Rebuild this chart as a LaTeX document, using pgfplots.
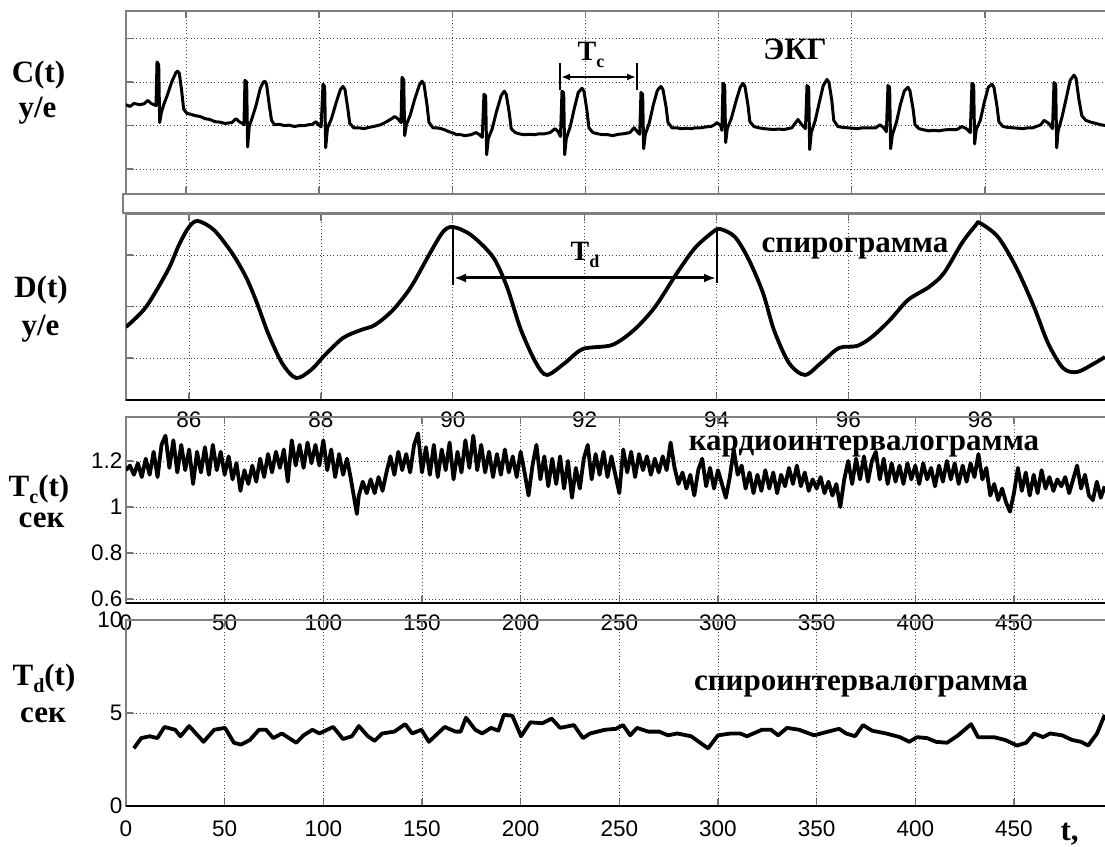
\documentclass[border=0pt]{standalone}
\usepackage{fontspec}
\setmainfont{Liberation Serif}
\newfontfamily\arial{Liberation Sans}
\usepackage{pgfplots}
\pgfplotsset{compat=1.18}
\usetikzlibrary{arrows.meta}

\pgfplotstableread{
t y
85.099 0.48
85.160 0.44
85.220 0.51
85.300 0.48
85.369 0.50
85.429 0.58
85.475 0.51
85.520 0.48
85.550 0.46
85.565 1.46
85.590 1.40
85.605 0.07
85.630 0.30
85.665 0.48
85.720 0.70
85.790 1.02
85.850 1.22
85.875 1.25
85.900 1.20
85.935 0.80
85.965 0.38
86.015 0.28
86.075 0.26
86.135 0.23
86.210 0.21
86.286 0.16
86.360 0.14
86.436 0.09
86.510 0.08
86.586 0.05
86.691 0.07
86.751 0.16
86.800 0.09
86.850 0.05
86.871 0.02
86.886 1.04
86.911 1.00
86.926 -0.49
86.950 -0.02
86.990 0.16
87.050 0.45
87.115 0.85
87.160 1.00
87.186 1.02
87.210 0.95
87.250 0.48
87.285 0.12
87.330 0.02
87.400 0.03
87.480 0.00
87.550 0.01
87.630 -0.02
87.700 0.00
87.780 0.00
87.840 0.02
87.900 0.03
87.953 0.09
87.990 0.02
88.030 -0.03
88.058 0.95
88.083 0.90
88.098 -0.51
88.125 -0.06
88.185 0.16
88.260 0.55
88.320 0.83
88.358 0.90
88.388 0.83
88.430 0.40
88.460 0.05
88.520 -0.05
88.600 -0.05
88.670 -0.07
88.750 -0.04
88.820 -0.02
88.925 0.02
89.015 0.09
89.090 0.16
89.135 0.21
89.180 0.16
89.230 0.07
89.245 1.11
89.270 1.05
89.285 -0.23
89.310 0.02
89.370 0.25
89.430 0.58
89.505 0.93
89.545 1.02
89.575 0.95
89.620 0.48
89.650 0.07
89.710 -0.05
89.770 -0.05
89.830 -0.07
89.890 -0.10
89.950 -0.14
90.010 -0.17
90.070 -0.21
90.130 -0.21
90.190 -0.23
90.280 -0.21
90.356 -0.16
90.410 -0.21
90.450 -0.27
90.476 0.72
90.501 0.68
90.516 -0.67
90.540 -0.30
90.600 -0.07
90.660 0.30
90.735 0.69
90.780 0.79
90.810 0.72
90.855 0.30
90.885 -0.07
90.945 -0.16
91.010 -0.19
91.080 -0.21
91.160 -0.20
91.230 -0.21
91.300 -0.19
91.380 -0.19
91.470 -0.16
91.543 -0.07
91.590 -0.14
91.625 -0.25
91.648 0.79
91.673 0.75
91.688 -0.67
91.712 -0.30
91.772 -0.02
91.832 0.39
91.892 0.76
91.948 0.86
91.978 0.79
92.022 0.35
92.052 -0.05
92.112 -0.16
92.190 -0.19
92.262 -0.21
92.340 -0.21
92.412 -0.23
92.490 -0.20
92.562 -0.19
92.667 -0.16
92.731 -0.05
92.780 -0.14
92.815 -0.20
92.834 0.76
92.859 0.72
92.874 -0.53
92.900 -0.20
92.960 0.07
93.020 0.48
93.080 0.81
93.134 0.90
93.164 0.83
93.210 0.44
93.240 0.07
93.300 -0.05
93.370 -0.05
93.435 -0.07
93.510 -0.06
93.585 -0.07
93.660 -0.05
93.735 -0.05
93.810 -0.03
93.885 -0.02
93.940 0.02
93.976 0.07
94.030 0.00
94.050 -0.11
94.066 0.97
94.091 0.93
94.106 -0.39
94.130 -0.07
94.190 0.16
94.265 0.58
94.325 0.88
94.366 0.97
94.396 0.90
94.440 0.48
94.470 0.09
94.530 -0.02
94.600 -0.05
94.680 -0.07
94.750 -0.08
94.830 -0.09
94.900 -0.08
94.980 -0.09
95.100 -0.05
95.192 0.14
95.250 0.02
95.305 -0.07
95.328 0.92
95.353 0.88
95.368 -0.55
95.392 -0.16
95.452 0.12
95.512 0.53
95.572 0.92
95.628 1.06
95.658 0.99
95.700 0.58
95.730 0.12
95.790 -0.02
95.860 -0.04
95.940 -0.05
96.010 -0.06
96.090 -0.07
96.160 -0.05
96.240 -0.05
96.360 -0.05
96.424 0.02
96.480 -0.05
96.520 -0.14
96.544 0.92
96.569 0.88
96.584 -0.53
96.610 -0.21
96.670 0.07
96.730 0.48
96.790 0.80
96.844 0.88
96.874 0.80
96.920 0.39
96.950 0.02
97.010 -0.07
97.090 -0.10
97.160 -0.12
97.230 -0.11
97.310 -0.12
97.390 -0.10
97.460 -0.09
97.580 -0.09
97.656 -0.02
97.720 -0.07
97.780 -0.16
97.806 0.97
97.831 0.93
97.846 -0.42
97.870 -0.09
97.930 0.12
97.990 0.53
98.050 0.88
98.106 0.95
98.136 0.88
98.180 0.46
98.210 0.09
98.270 -0.02
98.340 -0.04
98.420 -0.05
98.500 -0.06
98.570 -0.07
98.650 -0.05
98.720 -0.05
98.840 0.02
98.888 0.12
98.960 0.05
99.015 -0.07
99.038 0.99
99.063 0.95
99.078 -0.51
99.100 -0.12
99.160 0.21
99.220 0.62
99.280 1.04
99.338 1.16
99.368 1.09
99.410 0.62
99.455 0.23
99.515 0.12
99.590 0.08
99.665 0.05
99.740 0.02
99.815 0.00
99.920 -0.02
}\ecg

\pgfplotstableread{
t y
85.045 1.602
85.348 1.990
85.682 2.709
85.848 3.194
86.000 3.544
86.136 3.660
86.379 3.485
86.652 3.039
86.864 2.573
87.031 2.068
87.198 1.485
87.410 0.903
87.622 0.612
87.850 0.767
88.062 1.058
88.335 1.388
88.608 1.544
88.820 1.641
89.093 1.932
89.366 2.379
89.639 3.000
89.851 3.447
90.003 3.544
90.276 3.388
90.610 2.961
90.822 2.379
91.034 1.544
91.262 0.903
91.428 0.670
91.701 0.903
91.974 1.175
92.414 1.252
92.748 1.544
93.066 1.990
93.400 2.650
93.672 3.136
93.945 3.447
94.052 3.505
94.279 3.350
94.491 2.903
94.704 2.262
94.870 1.544
95.098 0.903
95.340 0.670
95.583 0.903
95.856 1.194
96.129 1.233
96.356 1.408
96.629 1.738
96.902 2.126
97.221 2.379
97.448 2.650
97.721 3.233
97.933 3.583
97.994 3.621
98.267 3.350
98.540 2.767
98.813 1.990
99.025 1.291
99.252 0.806
99.465 0.728
99.738 0.903
99.889 1.019
}\spiro

\pgfplotstableread{
t y
0 1.16
2 1.18
4 1.14
6 1.19
8 1.13
10 1.21
12 1.14
14 1.24
16 1.13
18 1.27
20 1.31
22 1.17
24 1.29
26 1.15
28 1.27
30 1.16
32 1.25
34 1.10
36 1.24
38 1.15
40 1.26
42 1.14
44 1.27
46 1.16
48 1.24
50 1.14
52 1.22
54 1.12
56 1.19
58 1.07
60 1.16
62 1.10
64 1.18
66 1.11
68 1.21
70 1.13
72 1.23
74 1.15
76 1.24
78 1.17
80 1.25
82 1.11
84 1.29
86 1.18
88 1.27
90 1.17
92 1.28
94 1.19
96 1.27
98 1.18
100 1.29
102 1.16
104 1.25
106 1.13
108 1.23
110 1.14
112 1.21
114 1.12
116 1.02
117 0.97
118 1.05
120 1.11
122 1.06
124 1.12
126 1.06
128 1.13
130 1.07
132 1.15
134 1.22
136 1.14
138 1.24
140 1.16
142 1.23
144 1.15
146 1.27
148 1.32
150 1.15
152 1.26
154 1.14
156 1.27
158 1.13
160 1.25
162 1.16
164 1.28
166 1.12
168 1.24
170 1.15
172 1.29
174 1.17
176 1.31
178 1.16
180 1.27
182 1.15
184 1.24
186 1.13
188 1.23
190 1.14
192 1.25
194 1.15
196 1.22
198 1.13
200 1.24
202 1.15
204 1.05
206 1.18
208 1.27
210 1.12
212 1.22
214 1.09
216 1.21
218 1.10
220 1.22
222 1.08
224 1.20
226 1.04
228 1.17
230 1.08
232 1.21
234 1.27
236 1.12
238 1.23
240 1.14
242 1.24
244 1.13
246 1.22
248 1.14
250 1.06
252 1.25
254 1.15
256 1.24
258 1.13
260 1.23
262 1.16
264 1.22
266 1.14
268 1.21
270 1.15
272 1.22
274 1.16
276 1.28
278 1.17
280 1.10
282 1.15
284 1.08
286 1.14
288 1.05
290 1.16
292 1.21
294 1.09
296 1.17
298 1.08
300 1.16
302 1.10
304 1.04
306 1.13
308 1.25
310 1.14
312 1.18
314 1.08
316 1.15
318 1.06
320 1.14
322 1.07
324 1.16
326 1.08
328 1.15
330 1.06
332 1.14
334 1.09
336 1.17
338 1.10
340 1.18
342 1.09
344 1.15
346 1.07
348 1.12
350 1.08
352 1.13
354 1.06
356 1.11
358 1.05
360 1.10
362 1.00
364 1.12
366 1.20
368 1.10
370 1.21
372 1.12
374 1.22
376 1.11
378 1.20
380 1.24
382 1.12
384 1.21
386 1.10
388 1.19
390 1.11
392 1.18
394 1.10
396 1.19
398 1.12
400 1.18
402 1.10
404 1.19
406 1.12
408 1.17
410 1.09
412 1.18
414 1.11
416 1.20
418 1.12
420 1.19
422 1.10
424 1.18
426 1.11
428 1.19
430 1.13
432 1.23
434 1.12
436 1.17
438 1.05
440 1.10
442 1.03
444 1.08
446 1.02
448 0.98
450 1.06
452 1.17
454 1.07
456 1.15
458 1.05
460 1.14
462 1.06
464 1.16
466 1.08
468 1.13
470 1.07
472 1.12
474 1.09
476 1.13
478 1.06
480 1.12
482 1.18
484 1.08
486 1.14
488 1.05
490 1.03
492 1.11
494 1.04
496 1.09
}\cardio

\pgfplotstableread{
t y
4 3.1
7.7 3.65
12 3.75
15.9 3.65
19.5 4.25
24.9 4.1
27.6 3.75
32 4.3
39.3 3.45
44.7 4.1
50.2 4.2
54.7 3.4
58.3 3.3
62.8 3.55
67.4 4.1
71 4.1
74.6 3.65
79 3.9
86.3 3.4
90 3.8
94.5 4.1
98 3.9
105 4.25
110 3.6
114.5 3.75
118 4.3
122.6 3.75
126 3.5
129.8 3.9
136 4.0
141.5 4.4
145 3.9
149.7 4.1
153.5 3.45
161.5 4.25
167 4.0
169.6 4.0
172.3 4.75
177 4.1
180.5 3.9
185 4.2
188.7 4.05
191.5 4.9
195.8 4.85
200.2 3.75
204.9 4.5
211 4.45
215.7 4.7
220 4.2
227 4.35
231.6 3.65
235.2 3.9
242.8 4.1
248.3 4.15
251.9 4.35
255.5 3.8
259 4.2
264.6 4.0
270.2 4.0
274.7 3.8
279.3 3.9
286.4 3.75
295 3.1
300 3.8
306.6 3.9
311.2 3.9
314.7 3.75
322.3 4.1
326.9 4.1
330.5 3.8
335 4.2
341.1 4.1
348.7 3.8
355.8 4.0
361.4 4.15
364.9 3.9
369.5 3.75
373.5 4.35
378.1 4.05
385.2 3.9
392.3 3.7
396.9 3.45
400.9 3.7
406 3.65
410.5 3.45
416.1 3.4
421.7 3.8
428.3 4.4
431.8 3.7
439.9 3.7
445.5 3.55
451.6 3.25
456.2 3.4
460.2 3.9
464.8 3.7
468.3 3.9
474.4 3.8
479.5 3.55
484 3.45
487.6 3.25
492.1 3.9
496 4.9
}\spirint

\pgfplotsset{
  panel/.style={
    scale only axis, width=986pt, anchor=south west,
    axis line style={draw=black!50, line width=1.3pt},
    grid=major,
    major grid style={black!75, line width=0.7pt, dash pattern=on 0.8pt off 2.6pt},
    tick align=inside, major tick length=7pt,
    every tick/.style={black!55, line width=1.3pt},
    ticklabel style={font=\arial\fontsize{22.5}{23}\selectfont},
    /pgf/number format/assume math mode=true,
  },
}

\newcommand{\lbl}{\fontsize{31}{31}\selectfont\bfseries}

\begin{document}
\begin{tikzpicture}[x=1pt,y=1pt]
\useasboundingbox (0,0) rectangle (1105,846);
\clip (0,0) rectangle (1105,846);
\fill[white] (0,0) rectangle (1105,846);

% ECG panel
\begin{axis}[panel, at={(126pt,652pt)}, height=183pt,
  xmin=85.099, xmax=99.909, ymin=-1.571, ymax=2.633,
  xtick={86,88,...,98}, ytick={-1,0,1,2},
  xticklabels={}, yticklabels={}]
\addplot[black, line width=3pt, line join=round] table[x=t,y=y] {\ecg};
\end{axis}

% separator
\draw[black!50, line width=1.6pt, fill=white] (123,633) rectangle (1112,652);

% spirogram
\begin{axis}[panel, at={(126pt,446pt)}, height=186pt,
  xmin=85.045, xmax=99.996, ymin=0.184, ymax=3.796,
  xtick={86,88,...,98}, ytick={1,2,3}, yticklabels={},
  xticklabel style={yshift=-8pt}]
\addplot[black, line width=3.8pt, smooth] table[x=t,y=y] {\spiro};
\end{axis}

% cardiointervalogram
\begin{axis}[panel, at={(126pt,243pt)}, height=186pt,
  xmin=0, xmax=499.7, ymin=0.583, ymax=1.391,
  xtick={0,50,...,450}, ytick={0.6,0.8,1,1.2},
  yticklabels={0.6,0.8,1,1.2},
  xticklabel style={yshift=-8pt}]
\addplot[black, line width=3.8pt, line join=round] table[x=t,y=y] {\cardio};
\end{axis}

% spirointervalogram
\begin{axis}[panel, at={(126pt,40pt)}, height=186pt,
  xmin=0, xmax=499.7, ymin=0, ymax=10,
  xtick={0,50,...,450}, ytick={0,5,10},
  xticklabel style={yshift=-11pt}]
\addplot[black, line width=3.8pt, line join=round] table[x=t,y=y] {\spirint};
\end{axis}

% dark bottom axis lines
\draw[black, line width=1.5pt] (126,446) -- (1112,446);
\draw[black, line width=1.5pt] (126,243) -- (1112,243);
\draw[black, line width=1.5pt] (126,40) -- (1112,40);

% annotations: T_c
\draw[black, line width=1.5pt] (560,783) -- (560,756);
\draw[black, line width=1.5pt] (637,783) -- (637,756);
\draw[black, line width=2.2pt, {Latex[length=9pt,width=7pt]}-{Latex[length=9pt,width=7pt]}] (561,769) -- (636,769);
\node[font=\fontsize{28}{28}\selectfont\bfseries, anchor=base] at (591,785) {T\raisebox{-0.25em}{\fontsize{18}{18}\selectfont c}};

% annotations: T_d
\draw[black, line width=1.8pt] (453,619) -- (453,561);
\draw[black, line width=1.8pt] (717,617) -- (717,563);
\draw[black, line width=3pt, {Latex[length=12pt,width=9pt]}-{Latex[length=12pt,width=9pt]}] (454,568) -- (716,568);
\node[font=\fontsize{28}{28}\selectfont\bfseries, anchor=base] at (585,585) {T\raisebox{-0.25em}{\fontsize{18}{18}\selectfont d}};

% titles
\node[font=\lbl, anchor=base] at (795,786) {ЭКГ};
\node[font=\lbl, anchor=base] at (855,593) {спирограмма};
\node[font=\lbl, anchor=base] at (864,395) {кардиоинтервалограмма};
\node[font=\lbl, anchor=base] at (861,155) {спироинтервалограмма};

% left labels
\node[font=\lbl, anchor=base] at (38.5,763) {C(t)};
\node[font=\lbl, anchor=base] at (37.5,728) {у/е};
\node[font=\lbl, anchor=base] at (41,548) {D(t)};
\node[font=\lbl, anchor=base] at (40.5,510) {у/е};
\node[font=\lbl, anchor=base] at (39,349) {T\raisebox{-0.2em}{\fontsize{20}{20}\selectfont c}(t)};
\node[font=\lbl, anchor=base] at (41.5,318) {сек};
\node[font=\lbl, anchor=base] at (44,160) {T\raisebox{-0.2em}{\fontsize{20}{20}\selectfont d}(t)};
\node[font=\lbl, anchor=base] at (43,124) {сек};
\node[font=\lbl, anchor=base west] at (1057,6) {t,};
\end{tikzpicture}
\end{document}
